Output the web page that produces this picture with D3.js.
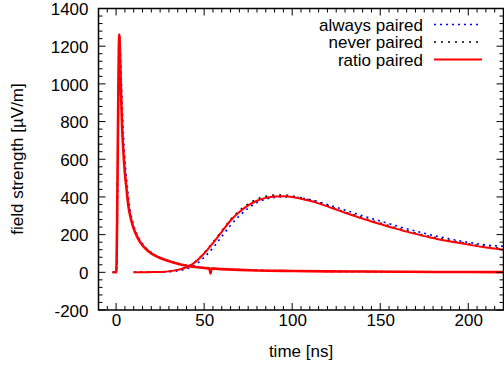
<!DOCTYPE html>
<html><head><meta charset="utf-8">
<script src="https://cdn.jsdelivr.net/npm/d3@7"></script>
<style>body{margin:0;background:#fff}svg{display:block}text{font-family:"Liberation Sans",Arial,Helvetica,sans-serif;font-size:17px;fill:#000}</style>
</head><body><svg id="c" width="504" height="369"></svg>
<script>
// ---- data ----
const seriesNames = ["always paired", "never paired", "ratio paired"];
const xTicks = [0, 50, 100, 150, 200];
const yTicks = [-200, 0, 200, 400, 600, 800, 1000, 1200, 1400];

// short pulse component
const pulseTimeRatio  = [-2, 0, 0.3, 0.8, 1.3, 1.8, 2.3, 2.8, 3.3, 4, 5, 6, 7, 8, 9, 10, 12, 14, 16, 18, 20, 24, 28, 32, 36, 40, 45, 50, 53, 53.6, 54.2, 60, 70, 80, 100, 120, 140, 160, 180, 200, 220];
const pulseRatio      = [0, 0, 60, 500, 1000, 1262, 1120, 950, 800, 660, 525, 435, 350, 300, 262, 232, 188, 155, 132, 114, 100, 80, 65, 53, 43, 35, 28, 23, 21, -6, 20, 17, 13, 10, 7, 5, 4, 3, 2, 2, 1];
const pulseTimeAlways = [-2, 0, 0.4, 0.9, 1.4, 1.9, 2.6, 3.2, 3.8, 4.5, 5.5, 6.5, 7.5, 8.5, 9.5, 10.5, 12.5, 14.5, 16.5, 18.5, 20.5, 24, 28, 32, 36, 40, 45, 50, 60, 70, 80, 100, 120, 140, 160, 180, 200, 220];
const pulseAlways     = [0, 0, 50, 480, 980, 1255, 1130, 960, 810, 670, 540, 445, 360, 305, 265, 235, 190, 158, 134, 116, 102, 82, 67, 55, 45, 37, 30, 25, 18, 14, 11, 8, 6, 4, 3, 3, 2, 2];
const pulseTimeNever  = [-2, 0, 0.3, 0.8, 1.3, 1.8, 2.3, 2.8, 3.3, 4, 5, 6, 7, 8, 9, 10, 12, 14, 16, 18, 20, 24, 28, 32, 36, 40, 45, 50, 60, 70, 80, 100, 120, 140, 160, 180, 200, 220];
const pulseNever      = [0, 0, 60, 505, 1005, 1265, 1125, 955, 805, 665, 530, 440, 355, 303, 265, 234, 190, 157, 133, 115, 101, 81, 66, 54, 44, 36, 29, 24, 17, 13, 10, 7, 5, 4, 3, 2, 2, 1];

// broad hump component
const humpTime   = [10, 20, 25, 30, 35, 40, 45, 50, 55, 60, 65, 70, 75, 80, 85, 90, 95, 100, 105, 110, 115, 120, 125, 130, 135, 140, 145, 150, 155, 160, 165, 170, 175, 180, 185, 190, 195, 200, 205, 210, 215, 220];
const humpRatio  = [0, 1, 2, 5, 13, 27, 55, 100, 155, 215, 275, 320, 355, 380, 395, 402, 403, 400, 390, 380, 366, 350, 333, 316, 300, 285, 270, 256, 242, 229, 216, 204, 192, 182, 172, 163, 155, 147, 139, 132, 126, 120];
const humpAlways = [0, 0, 1, 3, 8, 18, 40, 80, 130, 190, 250, 300, 340, 370, 388, 397, 400, 400, 395, 386, 374, 360, 345, 330, 315, 300, 286, 272, 258, 244, 231, 219, 207, 196, 186, 176, 167, 159, 152, 145, 141, 138];
const humpNever  = [0, 1, 2, 5, 13, 28, 57, 103, 160, 220, 280, 327, 362, 388, 403, 410, 410, 405, 395, 384, 370, 354, 337, 320, 305, 290, 275, 261, 247, 234, 221, 209, 197, 187, 177, 168, 160, 152, 144, 137, 131, 125];

// ---- layout ----
const L = 98.5, R = 503.5, T = 8.5, B = 310;
const FONT = '"Liberation Sans",Arial,Helvetica,sans-serif';
const svg = d3.select("#c");
const x = d3.scaleLinear().domain([-10, 220]).range([L, R]);
const y = d3.scaleLinear().domain([-200, 1400]).range([B, T]);

const styles = [
  {color: "#0000ff", width: 1.6, dash: "2,4"},
  {color: "#000000", width: 1.6, dash: "2,5"},
  {color: "#ff0000", width: 2, dash: null}
];
const curves = [
  [[pulseTimeAlways, pulseAlways], [humpTime, humpAlways]],
  [[pulseTimeNever, pulseNever], [humpTime, humpNever]],
  [[pulseTimeRatio, pulseRatio], [humpTime, humpRatio]]
];

svg.append("clipPath").attr("id", "pc").append("rect")
  .attr("x", L).attr("y", T).attr("width", R - L).attr("height", B - T);

const line = d3.line().x(d => x(d[0])).y(d => y(d[1])).curve(d3.curveMonotoneX);
const g = svg.append("g").attr("clip-path", "url(#pc)");
curves.forEach((parts, i) => {
  parts.forEach(([ts, vs], j) => {
    g.append("path").datum(ts.map((t, k) => [t, vs[k]]))
      .attr("d", line).attr("fill", "none")
      .attr("stroke", styles[i].color)
      .attr("stroke-width", (i === 2 && j === 0) ? 2.6 : styles[i].width)
      .attr("stroke-dasharray", styles[i].dash)
      .attr("stroke-linejoin", "round");
  });
});

// axes with mirrored inward ticks
const MAJ = 7, MIN = 4;
const xMinor = d3.range(-10, 221, 5);
const yMinor = d3.range(-200, 1401, 40);
const axG = svg.append("g").attr("stroke", "#000").attr("stroke-width", 1);
xMinor.forEach(v => {
  const len = xTicks.includes(v) ? MAJ : MIN;
  axG.append("line").attr("x1", x(v)).attr("x2", x(v)).attr("y1", B).attr("y2", B - len);
  axG.append("line").attr("x1", x(v)).attr("x2", x(v)).attr("y1", T).attr("y2", T + len);
});
yMinor.forEach(v => {
  const len = yTicks.includes(v) ? MAJ : MIN;
  axG.append("line").attr("y1", y(v)).attr("y2", y(v)).attr("x1", L).attr("x2", L + len);
  axG.append("line").attr("y1", y(v)).attr("y2", y(v)).attr("x1", R).attr("x2", R - len);
});
svg.append("rect").attr("x", L).attr("y", T).attr("width", R - L).attr("height", B - T)
  .attr("fill", "none").attr("stroke", "#000").attr("stroke-width", 1.5);

const fmt = d => String(d);
const bottomAxis = d3.axisBottom(x).tickValues(xTicks).tickFormat(fmt).tickSize(0).tickPadding(0);
const ax = svg.append("g").attr("transform", `translate(0,${B})`).call(bottomAxis);
ax.select(".domain").remove();
ax.selectAll("text").attr("y", 16).attr("dy", 0).style("font-size", "17px")
  .style("font-family", FONT).attr("fill", "#000");

const leftAxis = d3.axisLeft(y).tickValues(yTicks).tickFormat(fmt).tickSize(0).tickPadding(0);
const ay = svg.append("g").attr("transform", `translate(${L},0)`).call(leftAxis);
ay.select(".domain").remove();
ay.selectAll("text").attr("x", -10).attr("dy", "0.36em").style("font-size", "17px")
  .style("font-family", FONT).attr("fill", "#000");

svg.append("text").attr("x", (L + R) / 2).attr("y", 357).attr("text-anchor", "middle").text("time [ns]");
svg.append("text").attr("transform", "translate(23,159) rotate(-90)").attr("text-anchor", "middle").text("field strength [µV/m]");

// legend
const lg = svg.append("g");
seriesNames.forEach((n, i) => {
  const by = 30.5 + i * 17.5;
  lg.append("text").attr("x", 423).attr("y", by).attr("text-anchor", "end").text(n);
  lg.append("line").attr("x1", 434).attr("x2", 482).attr("y1", by - 6).attr("y2", by - 6)
    .attr("stroke", styles[i].color).attr("stroke-width", styles[i].width)
    .attr("stroke-dasharray", styles[i].dash);
});
</script></body></html>
